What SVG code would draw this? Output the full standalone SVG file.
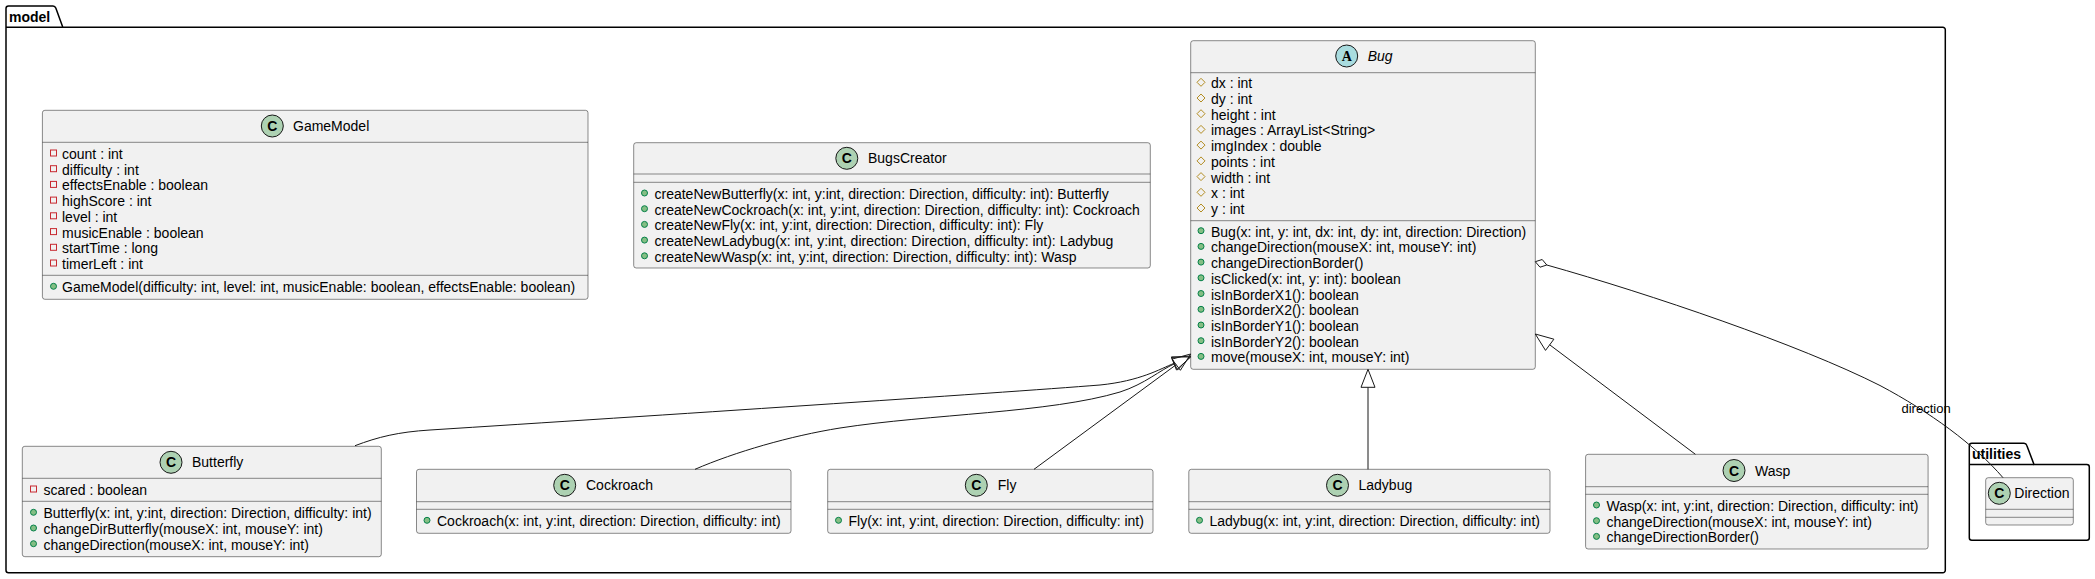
<svg xmlns="http://www.w3.org/2000/svg" width="2095" height="579" viewBox="0 0 2095 579">
<style>
.bg{fill:#FFFFFF}
.pkg{fill:none;stroke:#000000;stroke-width:1.5}
.pt{font-family:"Liberation Sans",Arial,sans-serif;font-size:14px;font-weight:bold;fill:#000000}
.box{fill:#F1F1F1;stroke:#181818;stroke-width:0.5}
.sep{stroke:#181818;stroke-width:0.5}
.t{font-family:"Liberation Sans",Arial,sans-serif;font-size:14px;fill:#000000}
.it{font-style:italic}
.ci{fill:#ADD1B2;stroke:#181818;stroke-width:1}
.ca{fill:#A9DCDF;stroke:#181818;stroke-width:1}
.cl{font-family:"Liberation Sans",Arial,sans-serif;font-size:14px;font-weight:bold;text-anchor:middle;fill:#000000}
.al{font-family:"Liberation Serif","Times New Roman",serif;font-size:14px;font-weight:bold;text-anchor:middle;fill:#000000}
.priv{fill:none;stroke:#C82930;stroke-width:1}
.prot{fill:none;stroke:#B38D22;stroke-width:1}
.pub{fill:#84BE84;stroke:#038048;stroke-width:1}
.edge{fill:none;stroke:#181818;stroke-width:1}
.head{fill:none;stroke:#181818;stroke-width:1}
.lbl{font-family:"Liberation Sans",Arial,sans-serif;font-size:13px;fill:#000000}
</style>
<rect class="bg" x="0" y="0" width="2095" height="579"/>

<g id="pkg-model">
<path class="pkg" d="M8.5,6 L53,6 A3,3 0 0 1 55.8,8.1 L62.8,27.3 L1942.8,27.3 A2.5,2.5 0 0 1 1945.3,29.8 L1945.3,570.2 A2.5,2.5 0 0 1 1942.8,572.7 L8.5,572.7 A2.5,2.5 0 0 1 6,570.2 L6,8.5 A2.5,2.5 0 0 1 8.5,6 Z"/>
<line class="pkg" x1="6" y1="27.3" x2="62.8" y2="27.3"/>
<text class="pt" x="9" y="21.5">model</text>
</g>

<g id="pkg-utilities">
<path class="pkg" d="M1971.8,443.3 L2024,443.3 A3,3 0 0 1 2026.8,445.4 L2034,464.5 L2086.8,464.5 A2.5,2.5 0 0 1 2089.3,467 L2089.3,537.8 A2.5,2.5 0 0 1 2086.8,540.3 L1971.8,540.3 A2.5,2.5 0 0 1 1969.3,537.8 L1969.3,445.8 A2.5,2.5 0 0 1 1971.8,443.3 Z"/>
<line class="pkg" x1="1969.3" y1="464.5" x2="2034" y2="464.5"/>
<text class="pt" x="1972" y="459">utilities</text>
</g>

<g id="GameModel">
<rect class="box" x="42.4" y="110.3" width="545.6" height="189" rx="2.5"/>
<line class="sep" x1="42.4" y1="142.3" x2="588" y2="142.3"/>
<line class="sep" x1="42.4" y1="275.3" x2="588" y2="275.3"/>
<circle class="ci" cx="272.3" cy="126" r="11"/>
<text class="cl" x="272.3" y="131">C</text>
<text class="t" x="293" y="131">GameModel</text>
<rect class="priv" x="50.5" y="150" width="6" height="6"/><text class="t" x="62" y="159">count : int</text>
<rect class="priv" x="50.5" y="165.7" width="6" height="6"/><text class="t" x="62" y="174.7">difficulty : int</text>
<rect class="priv" x="50.5" y="181.4" width="6" height="6"/><text class="t" x="62" y="190.4">effectsEnable : boolean</text>
<rect class="priv" x="50.5" y="197.1" width="6" height="6"/><text class="t" x="62" y="206.1">highScore : int</text>
<rect class="priv" x="50.5" y="212.8" width="6" height="6"/><text class="t" x="62" y="221.8">level : int</text>
<rect class="priv" x="50.5" y="228.6" width="6" height="6"/><text class="t" x="62" y="237.6">musicEnable : boolean</text>
<rect class="priv" x="50.5" y="244.3" width="6" height="6"/><text class="t" x="62" y="253.3">startTime : long</text>
<rect class="priv" x="50.5" y="260" width="6" height="6"/><text class="t" x="62" y="269">timerLeft : int</text>
<circle class="pub" cx="53.5" cy="286.3" r="3"/><text class="t" x="62" y="292.3">GameModel(difficulty: int, level: int, musicEnable: boolean, effectsEnable: boolean)</text>
</g>

<g id="BugsCreator">
<rect class="box" x="633.7" y="142.7" width="516.6" height="125.3" rx="2.5"/>
<line class="sep" x1="633.7" y1="174" x2="1150.3" y2="174"/>
<line class="sep" x1="633.7" y1="182.3" x2="1150.3" y2="182.3"/>
<circle class="ci" cx="846.8" cy="158.3" r="11"/>
<text class="cl" x="846.8" y="163.3">C</text>
<text class="t" x="868" y="163.3">BugsCreator</text>
<circle class="pub" cx="644.5" cy="193" r="3"/><text class="t" x="654.5" y="199">createNewButterfly(x: int, y:int, direction: Direction, difficulty: int): Butterfly</text>
<circle class="pub" cx="644.5" cy="208.7" r="3"/><text class="t" x="654.5" y="214.7">createNewCockroach(x: int, y:int, direction: Direction, difficulty: int): Cockroach</text>
<circle class="pub" cx="644.5" cy="224.4" r="3"/><text class="t" x="654.5" y="230.4">createNewFly(x: int, y:int, direction: Direction, difficulty: int): Fly</text>
<circle class="pub" cx="644.5" cy="240.1" r="3"/><text class="t" x="654.5" y="246.1">createNewLadybug(x: int, y:int, direction: Direction, difficulty: int): Ladybug</text>
<circle class="pub" cx="644.5" cy="255.8" r="3"/><text class="t" x="654.5" y="261.8">createNewWasp(x: int, y:int, direction: Direction, difficulty: int): Wasp</text>
</g>

<g id="Bug">
<rect class="box" x="1190.7" y="40.7" width="344.6" height="328.6" rx="2.5"/>
<line class="sep" x1="1190.7" y1="72.7" x2="1535.3" y2="72.7"/>
<line class="sep" x1="1190.7" y1="220.7" x2="1535.3" y2="220.7"/>
<circle class="ca" cx="1346.7" cy="56" r="11"/>
<text class="al" x="1346.7" y="61">A</text>
<text class="t it" x="1367.7" y="61">Bug</text>
<polygon class="prot" points="1201,78.3 1205,82.3 1201,86.3 1197,82.3"/><text class="t" x="1211" y="88.3">dx : int</text>
<polygon class="prot" points="1201,94 1205,98 1201,102 1197,98"/><text class="t" x="1211" y="104">dy : int</text>
<polygon class="prot" points="1201,109.7 1205,113.7 1201,117.7 1197,113.7"/><text class="t" x="1211" y="119.7">height : int</text>
<polygon class="prot" points="1201,125.4 1205,129.4 1201,133.4 1197,129.4"/><text class="t" x="1211" y="135.4">images : ArrayList&lt;String&gt;</text>
<polygon class="prot" points="1201,141.1 1205,145.1 1201,149.1 1197,145.1"/><text class="t" x="1211" y="151.1">imgIndex : double</text>
<polygon class="prot" points="1201,156.9 1205,160.9 1201,164.9 1197,160.9"/><text class="t" x="1211" y="166.9">points : int</text>
<polygon class="prot" points="1201,172.6 1205,176.6 1201,180.6 1197,176.6"/><text class="t" x="1211" y="182.6">width : int</text>
<polygon class="prot" points="1201,188.3 1205,192.3 1201,196.3 1197,192.3"/><text class="t" x="1211" y="198.3">x : int</text>
<polygon class="prot" points="1201,204 1205,208 1201,212 1197,208"/><text class="t" x="1211" y="214">y : int</text>
<circle class="pub" cx="1201" cy="230.7" r="3"/><text class="t" x="1211" y="236.7">Bug(x: int, y: int, dx: int, dy: int, direction: Direction)</text>
<circle class="pub" cx="1201" cy="246.4" r="3"/><text class="t" x="1211" y="252.4">changeDirection(mouseX: int, mouseY: int)</text>
<circle class="pub" cx="1201" cy="262.1" r="3"/><text class="t" x="1211" y="268.1">changeDirectionBorder()</text>
<circle class="pub" cx="1201" cy="277.8" r="3"/><text class="t" x="1211" y="283.8">isClicked(x: int, y: int): boolean</text>
<circle class="pub" cx="1201" cy="293.5" r="3"/><text class="t" x="1211" y="299.5">isInBorderX1(): boolean</text>
<circle class="pub" cx="1201" cy="309.3" r="3"/><text class="t" x="1211" y="315.3">isInBorderX2(): boolean</text>
<circle class="pub" cx="1201" cy="325" r="3"/><text class="t" x="1211" y="331">isInBorderY1(): boolean</text>
<circle class="pub" cx="1201" cy="340.7" r="3"/><text class="t" x="1211" y="346.7">isInBorderY2(): boolean</text>
<circle class="pub" cx="1201" cy="356.4" r="3"/><text class="t" x="1211" y="362.4">move(mouseX: int, mouseY: int)</text>
</g>

<g id="Butterfly">
<rect class="box" x="22.3" y="446.3" width="359" height="110.4" rx="2.5"/>
<line class="sep" x1="22.3" y1="478.3" x2="381.3" y2="478.3"/>
<line class="sep" x1="22.3" y1="501.3" x2="381.3" y2="501.3"/>
<circle class="ci" cx="171" cy="462.3" r="11"/>
<text class="cl" x="171" y="467.3">C</text>
<text class="t" x="192" y="467.3">Butterfly</text>
<rect class="priv" x="30.5" y="486" width="6" height="6"/><text class="t" x="43.5" y="495">scared : boolean</text>
<circle class="pub" cx="33.5" cy="512.3" r="3"/><text class="t" x="43.5" y="518.3">Butterfly(x: int, y:int, direction: Direction, difficulty: int)</text>
<circle class="pub" cx="33.5" cy="528" r="3"/><text class="t" x="43.5" y="534">changeDirButterfly(mouseX: int, mouseY: int)</text>
<circle class="pub" cx="33.5" cy="543.7" r="3"/><text class="t" x="43.5" y="549.7">changeDirection(mouseX: int, mouseY: int)</text>
</g>

<g id="Cockroach">
<rect class="box" x="416.5" y="469.3" width="374.5" height="64" rx="2.5"/>
<line class="sep" x1="416.5" y1="501.7" x2="791" y2="501.7"/>
<line class="sep" x1="416.5" y1="509.3" x2="791" y2="509.3"/>
<circle class="ci" cx="564.7" cy="485.3" r="11"/>
<text class="cl" x="564.7" y="490.3">C</text>
<text class="t" x="586" y="490.3">Cockroach</text>
<circle class="pub" cx="427" cy="520.3" r="3"/><text class="t" x="437" y="526.3">Cockroach(x: int, y:int, direction: Direction, difficulty: int)</text>
</g>

<g id="Fly">
<rect class="box" x="827.7" y="469.3" width="325.3" height="64" rx="2.5"/>
<line class="sep" x1="827.7" y1="501.7" x2="1153" y2="501.7"/>
<line class="sep" x1="827.7" y1="509.3" x2="1153" y2="509.3"/>
<circle class="ci" cx="976.3" cy="485.3" r="11"/>
<text class="cl" x="976.3" y="490.3">C</text>
<text class="t" x="997.8" y="490.3">Fly</text>
<circle class="pub" cx="838.5" cy="520.3" r="3"/><text class="t" x="848.5" y="526.3">Fly(x: int, y:int, direction: Direction, difficulty: int)</text>
</g>

<g id="Ladybug">
<rect class="box" x="1188.8" y="469.3" width="361.2" height="64" rx="2.5"/>
<line class="sep" x1="1188.8" y1="501.7" x2="1550" y2="501.7"/>
<line class="sep" x1="1188.8" y1="509.3" x2="1550" y2="509.3"/>
<circle class="ci" cx="1337.5" cy="485.3" r="11"/>
<text class="cl" x="1337.5" y="490.3">C</text>
<text class="t" x="1358.5" y="490.3">Ladybug</text>
<circle class="pub" cx="1199.5" cy="520.3" r="3"/><text class="t" x="1209.5" y="526.3">Ladybug(x: int, y:int, direction: Direction, difficulty: int)</text>
</g>

<g id="Wasp">
<rect class="box" x="1585.6" y="454.3" width="342.5" height="94.7" rx="2.5"/>
<line class="sep" x1="1585.6" y1="486.7" x2="1928.1" y2="486.7"/>
<line class="sep" x1="1585.6" y1="494.3" x2="1928.1" y2="494.3"/>
<circle class="ci" cx="1734" cy="470.5" r="11"/>
<text class="cl" x="1734" y="475.5">C</text>
<text class="t" x="1755" y="475.5">Wasp</text>
<circle class="pub" cx="1596.5" cy="505" r="3"/><text class="t" x="1606.5" y="511">Wasp(x: int, y:int, direction: Direction, difficulty: int)</text>
<circle class="pub" cx="1596.5" cy="520.7" r="3"/><text class="t" x="1606.5" y="526.7">changeDirection(mouseX: int, mouseY: int)</text>
<circle class="pub" cx="1596.5" cy="536.4" r="3"/><text class="t" x="1606.5" y="542.4">changeDirectionBorder()</text>
</g>

<g id="Direction">
<rect class="box" x="1985.7" y="477.7" width="87.6" height="47.3" rx="2.5"/>
<line class="sep" x1="1985.7" y1="509.3" x2="2073.3" y2="509.3"/>
<line class="sep" x1="1985.7" y1="517.3" x2="2073.3" y2="517.3"/>
<circle class="ci" cx="1999.3" cy="493.3" r="11"/>
<text class="cl" x="1999.3" y="498.3">C</text>
<text class="t" x="2014.3" y="498.3">Direction</text>
</g>

<g id="connectors">
<path class="edge" d="M355,445.7 C378,437 398,432 430,430 C650,416 1000,393 1100,385 C1140,381 1160,369 1173.9,363.4"/>
<polygon class="head" points="1190.7,357 1176.4,369.9 1171.4,356.9"/>
<path class="edge" d="M695,469.3 C735,452 790,436 840,428 C930,414 1050,413 1120,392 C1145,384 1160,370 1174.5,363.8"/>
<polygon class="head" points="1190.7,356 1177.5,370.1 1171.5,357.5"/>
<path class="edge" d="M1034,469.3 L1176.2,364.7"/>
<polygon class="head" points="1190.7,354 1180.4,370.3 1172,359.1"/>
<path class="edge" d="M1368,469.3 L1368,387.3"/>
<polygon class="head" points="1368,369.3 1375,387.3 1361,387.3"/>
<path class="edge" d="M1695.4,454.3 L1549.7,344.8"/>
<polygon class="head" points="1535.3,334 1545.5,350.4 1553.9,339.2"/>
<path class="edge" d="M1546.8,265 C1650,294 1800,345 1880,385.5 C1930,412 1975,445 2003,477.7"/>
<polygon class="head" points="1535.3,261.7 1542.2,259.5 1546.8,265 1540,267.2"/>
<text class="lbl" x="1901.5" y="413">direction</text>
</g>
</svg>
